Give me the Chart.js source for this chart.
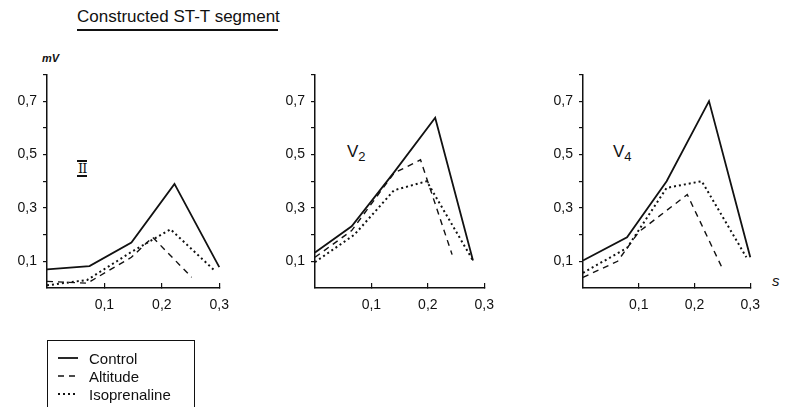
<!DOCTYPE html>
<html>
<head>
<meta charset="utf-8">
<script src="https://cdn.jsdelivr.net/npm/chart.js@4.4.1/dist/chart.umd.min.js"></script>
<style>
  body { margin: 0; background: #fff; width: 790px; height: 407px; position: relative; overflow: hidden;
         font-family: "Liberation Sans", Arial, sans-serif; color: #111; }
  .panel { position: absolute; top: 60px; }
  .txt { position: absolute; white-space: nowrap; }
  #title { left: 77px; top: 7px; font-size: 17px; padding-bottom: 2px; border-bottom: 2px solid #111; width: 201px; }
  #unit { left: 42px; top: 52px; font-size: 11px; font-style: italic; font-weight: bold; }
  #lead2 { left: 77px; top: 160px; font-family: "DejaVu Serif", serif; font-size: 13px; line-height: 13px;
           border-top: 2px solid #111; border-bottom: 2px solid #111; padding: 0 1px; letter-spacing: -1px; }
  .lead { font-size: 17px; top: 142px; }
  .lead sub { font-size: 13px; vertical-align: -4px; }
  #sec { left: 772px; top: 272px; font-size: 15px; font-style: italic; }
  #legend { position: absolute; left: 47px; top: 340px; width: 146px; height: 80px; border: 1.5px solid #111; }
  .row { position: absolute; left: 10px; height: 18px; display: flex; align-items: center; font-size: 15px; }
  .row canvas { margin-right: 11px; }
</style>
</head>
<body>
<div class="txt" id="title">Constructed ST-T segment</div>
<div class="txt" id="unit">mV</div>
<div class="txt" id="lead2">II</div>
<div class="txt lead" style="left:347px">V<sub>2</sub></div>
<div class="txt lead" style="left:613px">V<sub>4</sub></div>
<div class="txt" id="sec">s</div>

<canvas class="panel" id="pII"></canvas>
<canvas class="panel" id="pV2"></canvas>
<canvas class="panel" id="pV4"></canvas>

<div id="legend"></div>

<script>
const seriesNames = ['Control', 'Altitude', 'Isoprenaline'];

const xTicks = [0.1, 0.2, 0.3];
const yTickLabels = [0.1, 0.3, 0.5, 0.7];

// lead II
const iiControlT = [0, 0.074, 0.147, 0.222, 0.3];
const iiControlMV = [0.07, 0.082, 0.17, 0.39, 0.078];
const iiAltitudeT = [0, 0.07, 0.147, 0.184, 0.252];
const iiAltitudeMV = [0.025, 0.018, 0.115, 0.19, 0.04];
const iiIsoT = [0, 0.07, 0.147, 0.215, 0.292];
const iiIsoMV = [0.01, 0.03, 0.135, 0.22, 0.065];

// lead V2
const v2ControlT = [0, 0.065, 0.14, 0.213, 0.28];
const v2ControlMV = [0.133, 0.231, 0.433, 0.638, 0.103];
const v2AltitudeT = [0, 0.065, 0.14, 0.187, 0.243];
const v2AltitudeMV = [0.115, 0.215, 0.43, 0.48, 0.125];
const v2IsoT = [0, 0.07, 0.14, 0.198, 0.28];
const v2IsoMV = [0.097, 0.2, 0.366, 0.40, 0.103];

// lead V4
const v4ControlT = [0, 0.079, 0.15, 0.226, 0.3];
const v4ControlMV = [0.103, 0.19, 0.40, 0.70, 0.115];
const v4AltitudeT = [0, 0.062, 0.10, 0.187, 0.25];
const v4AltitudeMV = [0.04, 0.10, 0.21, 0.35, 0.073];
const v4IsoT = [0, 0.079, 0.15, 0.213, 0.293];
const v4IsoMV = [0.057, 0.15, 0.375, 0.40, 0.115];

const INK = '#111';
const FONT = '"Liberation Sans", Arial, sans-serif';
const styles = [
  { borderWidth: 1.8, borderDash: [] },
  { borderWidth: 1.4, borderDash: [6, 5] },
  { borderWidth: 2, borderDash: [2, 3] }
];

const fmt = v => String(Math.round(v * 10) / 10).replace('.', ',');
const isIn = (arr, v) => arr.some(a => Math.abs(a - v) < 1e-6);

function pts(t, mv) {
  return t.map((x, i) => ({ x, y: mv[i] }));
}

function makePanel(id, axisX, plotW, series) {
  const canvas = document.getElementById(id);
  const yAxisW = 47, padR = 16, padT = 11, H = 255, xAxisH = 27;
  canvas.width = yAxisW + plotW + padR;
  canvas.height = H;
  canvas.style.left = (axisX - yAxisW) + 'px';

  new Chart(canvas, {
    type: 'line',
    data: {
      datasets: series.map((s, i) => ({
        label: seriesNames[i],
        data: pts(s[0], s[1]),
        borderColor: INK,
        borderWidth: styles[i].borderWidth,
        borderDash: styles[i].borderDash,
        pointRadius: 0,
        tension: 0,
        fill: false,
        clip: false
      }))
    },
    options: {
      responsive: false,
      animation: false,
      layout: { padding: { top: padT, right: padR, left: 0, bottom: 0 } },
      plugins: { legend: { display: false }, tooltip: { enabled: false } },
      scales: {
        x: {
          type: 'linear', min: 0, max: 0.3,
          afterFit: s => { s.height = xAxisH; },
          border: { display: true, color: INK, width: 1.5 },
          grid: {
            drawOnChartArea: false, drawTicks: true, tickLength: -5, lineWidth: 1.2,
            color: ctx => (ctx.tick && isIn(xTicks, ctx.tick.value)) ? INK : 'rgba(0,0,0,0)'
          },
          ticks: {
            stepSize: 0.1, padding: 14, color: INK, maxRotation: 0,
            font: { family: FONT, size: 14 },
            callback: v => isIn(xTicks, v) ? fmt(v) : ''
          }
        },
        y: {
          type: 'linear', min: 0, max: 0.8,
          afterFit: s => { s.width = yAxisW; },
          border: { display: true, color: INK, width: 1.5 },
          grid: {
            drawOnChartArea: false, drawTicks: true, tickLength: 4, lineWidth: 1.2,
            color: ctx => (ctx.tick && ctx.tick.value > 0.05) ? INK : 'rgba(0,0,0,0)'
          },
          ticks: {
            stepSize: 0.1, padding: 6, color: INK,
            font: { family: FONT, size: 14 },
            callback: v => isIn(yTickLabels, v) ? fmt(v) : ''
          }
        }
      }
    }
  });
}

makePanel('pII', 47, 180, [[iiControlT, iiControlMV], [iiAltitudeT, iiAltitudeMV], [iiIsoT, iiIsoMV]]);
makePanel('pV2', 315, 177, [[v2ControlT, v2ControlMV], [v2AltitudeT, v2AltitudeMV], [v2IsoT, v2IsoMV]]);
makePanel('pV4', 583, 175, [[v4ControlT, v4ControlMV], [v4AltitudeT, v4AltitudeMV], [v4IsoT, v4IsoMV]]);

// legend box
const legend = document.getElementById('legend');
seriesNames.forEach((name, i) => {
  const row = document.createElement('div');
  row.className = 'row';
  row.style.top = (8 + i * 18) + 'px';
  const c = document.createElement('canvas');
  c.width = 20; c.height = 4;
  const g = c.getContext('2d');
  g.strokeStyle = INK;
  g.lineWidth = styles[i].borderWidth;
  g.setLineDash(styles[i].borderDash);
  g.beginPath(); g.moveTo(0, 2); g.lineTo(20, 2); g.stroke();
  row.append(c, document.createTextNode(name));
  legend.append(row);
});
</script>
</body>
</html>
